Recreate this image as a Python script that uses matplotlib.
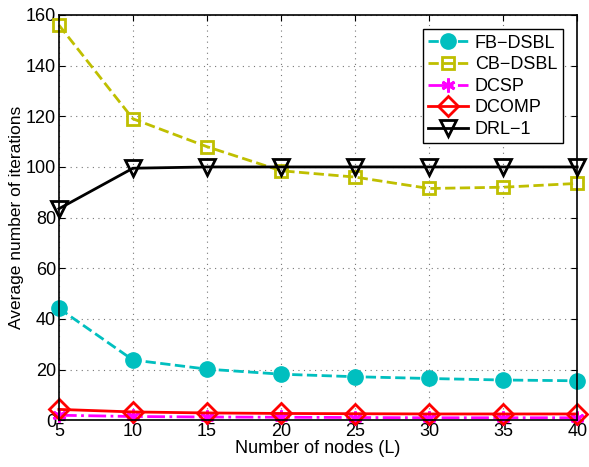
import matplotlib
matplotlib.use("Agg")
import matplotlib.pyplot as plt

plt.rcParams["font.family"] = ["Liberation Sans", "DejaVu Sans"]

nodes = [5, 10, 15, 20, 25, 30, 35, 40]
fb_dsbl = [44.2, 23.8, 20.2, 18.2, 17.2, 16.5, 15.9, 15.6]
cb_dsbl = [156, 119, 108, 98.5, 96, 91.5, 92, 93.5]
dcsp = [2.0, 1.5, 1.3, 1.2, 1.1, 1.0, 1.0, 1.0]
dcomp = [4.3, 3.3, 2.9, 2.7, 2.6, 2.5, 2.5, 2.5]
drl1 = [83.5, 99.5, 100, 100, 100, 100, 100, 100]

fig = plt.figure(figsize=(5.89, 4.67), dpi=100)
ax = fig.add_axes([0.100, 0.100, 0.880, 0.868])

ax.plot(nodes, fb_dsbl, "--", color="#00bfbf", lw=2, marker="o", ms=11,
        mfc="#00bfbf", mec="#00bfbf", label="FB\u2212DSBL", clip_on=False)
ax.plot(nodes, cb_dsbl, "--", color="#bfbf00", lw=2, marker="s", ms=9,
        mfc="none", mec="#bfbf00", mew=2, label="CB\u2212DSBL", clip_on=False)
# asterisk marker like MATLAB '*'
ax.plot(nodes, dcsp, "-.", color="#ff00ff", lw=2, marker=(6, 2, 0), ms=10,
        mfc="#ff00ff", mec="#ff00ff", mew=2, label="DCSP", clip_on=False)
ax.plot(nodes, dcomp, "-", color="#ff0000", lw=2, marker="D", ms=10,
        mfc="none", mec="#ff0000", mew=2, label="DCOMP", clip_on=False)
ax.plot(nodes, drl1, "-", color="black", lw=2, marker="v", ms=12,
        mfc="none", mec="black", mew=2, label="DRL\u22121", clip_on=False)

ax.set_xlim(5, 40)
ax.set_ylim(0, 160)
ax.set_xticks(nodes)
ax.set_yticks(range(0, 161, 20))
ax.tick_params(labelsize=13, direction="in", length=4, top=True, right=True, pad=2)
ax.grid(True, linestyle=(0, (1, 4)), color="#777777", lw=0.8)
for s in ax.spines.values():
    s.set_linewidth(1.2)
ax.set_xlabel("Number of nodes (L)", fontsize=13, labelpad=0)
ax.set_ylabel("Average number of iterations", fontsize=12.5, labelpad=1)

leg = ax.legend(loc="upper right", fontsize=13, fancybox=False, framealpha=1,
                edgecolor="black", handlelength=2.2, borderaxespad=0.8,
                labelspacing=0.25, borderpad=0.3, handletextpad=0.4)
leg.get_frame().set_linewidth(1)

fig.savefig("out.png", dpi=100)
